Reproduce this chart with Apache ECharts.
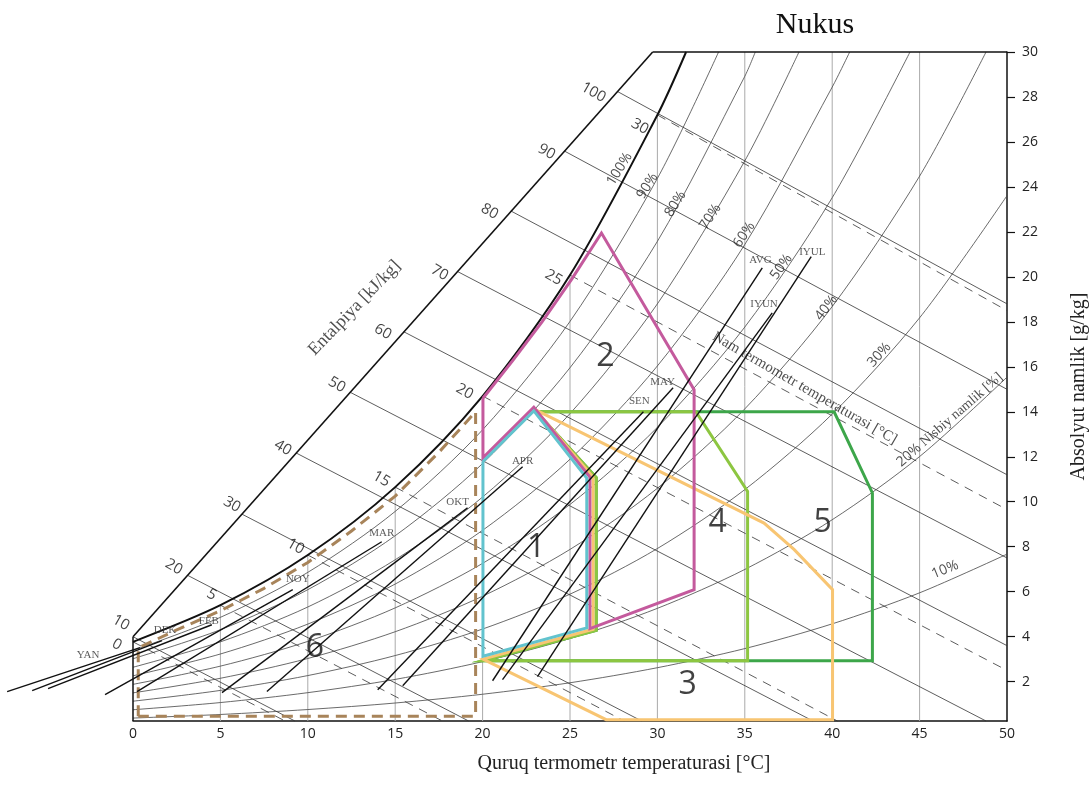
<!DOCTYPE html>
<html>
<head>
<meta charset="utf-8">
<title>Nukus</title>
<script src="https://cdn.jsdelivr.net/npm/echarts@6/dist/echarts.min.js"></script>
<style>
html,body{margin:0;padding:0;background:#fff;}
#main{width:1089px;height:787px;}
</style>
</head>
<body>
<div id="main"></div>
<script>
var yMin = 0.25;
var yTicks = [2,4,6,8,10,12,14,16,18,20,22,24,26,28,30];

// relative humidity curves, absolute humidity [g/kg] at these dry bulb temps
var temps = [0, 5, 10, 15, 20, 25, 30, 35, 40, 45, 50];
var rhNames = ['100%','90%','80%','70%','60%','50%','40%','30%','20%','10%'];
var rh100 = [3.77, 5.40, 7.63, 10.65, 14.70, 20.08, 27.20];
var rh90  = [3.39, 4.86, 6.86, 9.57, 13.20, 18.02, 24.38];
var rh80  = [3.02, 4.31, 6.09, 8.49, 11.70, 15.96, 21.58, 28.92];
var rh70  = [2.64, 3.77, 5.32, 7.42, 10.21, 13.92, 18.80, 25.16];
var rh60  = [2.26, 3.23, 4.56, 6.34, 8.73, 11.89, 16.04, 21.44, 28.44];
var rh50  = [1.88, 2.69, 3.79, 5.28, 7.26, 9.88, 13.31, 17.77, 23.52];
var rh40  = [1.50, 2.15, 3.03, 4.22, 5.80, 7.88, 10.60, 14.13, 18.68, 24.48];
var rh30  = [1.13, 1.61, 2.27, 3.16, 4.34, 5.89, 7.92, 10.54, 13.90, 18.18, 23.61];
var rh20  = [0.75, 1.07, 1.51, 2.10, 2.89, 3.92, 5.26, 6.99, 9.20, 12.01, 15.54];
var rh10  = [0.38, 0.54, 0.76, 1.05, 1.44, 1.95, 2.62, 3.47, 4.57, 5.95, 7.67];
// temp where a curve runs out of the top (30 g/kg)
var rhTopT = [31.64, 33.5, 35.6, 38.1, 41.0, 44.45, 48.8, null, null, null];
var rhLabelPos = [[27.83,24.8],[29.43,24.04],[31.03,23.24],[33.03,22.67],[34.97,21.87],[37.09,20.44],[39.66,18.62],[42.69,16.53],[46.72,13.64],[46.46,6.98]];
var rhLabelRot = [58, 58, 58, 57, 56, 54, 52, 48, 41, 22];

// vertical grid lines (from the saturation curve down)
var gridT = [5, 10, 15, 20, 25, 30, 35, 40, 45];
var gridTop = [5.40, 7.63, 10.65, 14.70, 20.08, 27.20, 30, 30, 30];

// enthalpy lines [kJ/kg]
var hVals = [10, 20, 30, 40, 50, 60, 70, 80, 90, 100];
var hStart = [[0,4.0],[3.12,6.73],[6.23,9.45],[9.33,12.17],[12.42,14.87],[15.49,17.56],[18.56,20.24],[21.62,22.93],[24.67,25.6],[27.70,28.25]];
var hEnd = [[9.26,yMin],[19.2,yMin],[29.1,yMin],[38.9,yMin],[48.8,yMin],[50,3.6],[50,7.5],[50,11.2],[50,15.0],[50,18.8]];
var hLabelPos = [[-0.69,4.62],[2.34,7.1],[5.66,9.87],[8.57,12.4],[11.66,15.2],[14.29,17.56],[17.54,20.18],[20.4,22.9],[23.66,25.56],[26.34,28.2]];
var hScaleEnd = [29.73, 30];

// wet bulb lines [°C]
var wbVals = [0, 5, 10, 15, 20, 25, 30];
var wbStart = [[0,3.77],[5,5.40],[10,7.63],[15,10.65],[20,14.70],[25,20.08],[30,27.20]];
var wbEnd = [[8.7,yMin],[17.7,yMin],[28.1,yMin],[40.3,yMin],[50,2.5],[50,9.65],[50,18.5]];
var wbLabelPos = [[-0.93,3.64],[4.5,5.87],[9.3,8.01],[14.21,11.01],[18.97,14.9],[24.06,19.97],[29.0,26.68]];

// monthly climate lines
var months = ['YAN','FEB','MAR','APR','MAY','IYUN','IYUL','AVG','SEN','OKT','NOY','DEK'];
var monthStart = [[-7.2,1.56],[-4.86,1.69],[0.23,1.56],[7.66,1.56],[15.43,1.82],[21.14,2.09],[23.14,2.22],[20.57,2.04],[14.0,1.64],[5.09,1.51],[-1.6,1.42],[-5.77,1.6]];
var monthEnd = [[0.4,3.51],[4.51,4.53],[14.23,8.22],[22.29,11.56],[30.9,15.07],[36.57,18.4],[38.8,20.9],[36.0,20.4],[29.2,14.0],[19.14,9.73],[9.14,6.09],[1.66,3.82]];
var monthLabelPos = [[-2.57,3.2],[4.34,4.67],[14.23,8.62],[22.29,11.82],[30.3,15.3],[36.1,18.8],[38.86,21.1],[35.9,20.76],[28.97,14.49],[18.57,10.0],[9.43,6.58],[1.83,4.31]];

// design strategy zones
var zone1 = [[20.02,11.79],[22.93,14.04],[25.96,11.05],[25.96,4.39],[20.02,3.13],[20.02,11.79]];
var zone2 = [[20.02,14.6],[21.7,16.25],[23.4,18.0],[25.1,19.9],[26.8,21.95],[32.1,14.98],[32.1,6.09],[26.14,4.36],[26.14,11.1],[22.93,14.2],[20.02,11.95],[20.02,14.6]];
var zone3 = [[23.0,14.1],[36.1,9.05],[37.83,7.87],[40.02,6.09],[40.02,0.31],[27.07,0.31],[20.02,3.0],[26.32,4.33],[26.32,11.1],[23.0,14.1]];
var zone4 = [[23.07,14.0],[32.2,14.0],[35.16,10.46],[35.16,2.93],[20.02,2.93],[26.5,4.28],[26.5,11.07],[23.07,14.0]];
var zone5 = [[23.07,14.0],[40.11,14.0],[42.3,10.39],[42.3,2.93],[20.02,2.93],[26.5,4.28],[26.5,11.07],[23.07,14.0]];
var zone6 = [[0.3,0.46],[0.3,3.5],[2.5,4.3],[5,5.15],[7.5,6.15],[10,7.3],[12.5,8.7],[15,10.25],[17.5,12.2],[19.6,14.0],[19.6,0.46],[0.3,0.46]];
var zoneNames = ['1','2','3','4','5','6'];
var zoneLabelPos = [[23.07,7.94],[27.03,16.46],[31.73,1.87],[33.45,9.05],[39.45,9.05],[10.4,3.5]];

var chart = echarts.init(document.getElementById('main'));
var series = [];

function addLine(pts, lineStyle, z, smooth) {
  series.push({
    type: 'line', data: pts, symbol: 'none', silent: true, clip: false,
    animation: false, smooth: smooth || false, z: z,
    lineStyle: lineStyle
  });
}
function addText(items, size, family, color, z) {
  series.push({
    type: 'scatter', silent: true, clip: false, animation: false, z: z || 6,
    symbolSize: 1, itemStyle: {color: 'rgba(0,0,0,0)'},
    label: {show: true, position: 'inside', color: color || '#222', fontSize: size, fontFamily: family},
    data: items
  });
}

gridT.forEach(function (t, i) {
  addLine([[t, yMin], [t, gridTop[i]]], {color: '#aaa', width: 1}, 1);
});

var rhTable = [rh100, rh90, rh80, rh70, rh60, rh50, rh40, rh30, rh20, rh10];
rhTable.forEach(function (vals, i) {
  var pts = vals.map(function (w, j) { return [temps[j], w]; });
  if (rhTopT[i] !== null) pts.push([rhTopT[i], 30]);
  if (i === 0) addLine(pts, {color: '#111', width: 2}, 3, 0.3);
  else addLine(pts, {color: '#444', width: 0.8}, 2, 0.3);
});

hVals.forEach(function (h, i) {
  addLine([hStart[i], hEnd[i]], {color: '#333', width: 0.8}, 2);
});
wbVals.forEach(function (v, i) {
  addLine([wbStart[i], wbEnd[i]], {color: '#333', width: 0.8, type: [9, 7]}, 2);
});

// chart outline
addLine([hStart[0], hScaleEnd], {color: '#111', width: 1.6}, 3);
addLine([[0, yMin], hStart[0]], {color: '#111', width: 1.5}, 3);
addLine([hScaleEnd, [50, 30]], {color: '#111', width: 1.5}, 3);

// zones
addLine(zone5, {color: '#3da64a', width: 3, join: 'miter'}, 4);
addLine(zone4, {color: '#8dc641', width: 3, join: 'miter'}, 4);
addLine(zone3, {color: '#f8c572', width: 3, join: 'miter'}, 4);
addLine(zone2, {color: '#c45a9d', width: 3, join: 'miter'}, 4);
addLine(zone1, {color: '#62c3ce', width: 3, join: 'miter'}, 4);
addLine(zone6, {color: '#a8845a', width: 3, type: [11, 7]}, 4);

// month lines: custom series so the cold months may run left of 0 °C
series.push({
  type: 'custom', silent: true, clip: false, animation: false, z: 5,
  encode: {x: [0, 2], y: [1, 3]},
  data: months.map(function (m, i) {
    return [monthStart[i][0], monthStart[i][1], monthEnd[i][0], monthEnd[i][1]];
  }),
  renderItem: function (params, api) {
    var a = api.coord([api.value(0), api.value(1)]);
    var b = api.coord([api.value(2), api.value(3)]);
    return {type: 'line', shape: {x1: a[0], y1: a[1], x2: b[0], y2: b[1]},
      style: {stroke: '#111', lineWidth: 1.4}};
  }
});

addText(months.map(function (m, i) {
  return {value: monthLabelPos[i], label: {formatter: m}};
}), 11, 'Liberation Serif', '#333');

addText(rhNames.map(function (n, i) {
  var txt = n === '20%' ? '{a|20%} {b|Nisbiy namlik [%]}' : n;
  return {value: rhLabelPos[i], label: {formatter: txt, rotate: rhLabelRot[i],
    rich: {a: {fontSize: 14, fontFamily: 'Open Sans', color: '#222'}, b: {fontSize: 14, fontFamily: 'Liberation Serif', color: '#222'}}}};
}), 14, 'Open Sans');

addText(hVals.map(function (h, i) {
  return {value: hLabelPos[i], label: {formatter: String(h), rotate: -30}};
}), 15, 'Open Sans', '#111');
addText(wbVals.map(function (v, i) {
  return {value: wbLabelPos[i], label: {formatter: String(v), rotate: -30}};
}), 15, 'Open Sans', '#111');

addText(zoneNames.map(function (n, i) {
  return {value: zoneLabelPos[i], label: {formatter: n}};
}), 32, 'Open Sans', '#111');

addText([
  {value: [38.43, 15.05], label: {formatter: 'Nam termometr temperaturasi [°C]', rotate: -30}},
  {value: [12.68, 18.62], label: {formatter: 'Entalpiya [kJ/kg]', rotate: 46, fontSize: 18}}
], 15, 'Liberation Serif');

chart.setOption({
  animation: false,
  backgroundColor: '#fff',
  grid: {left: 133, right: 82, top: 52, bottom: 66, containLabel: false, outerBoundsMode: 'none'},
  xAxis: {
    type: 'value', min: 0, max: 50, interval: 5,
    axisLine: {onZero: false, lineStyle: {color: '#111', width: 1.5}},
    axisTick: {show: false},
    splitLine: {show: false},
    axisLabel: {color: '#222', fontSize: 14, fontFamily: 'Open Sans', margin: 6}
  },
  yAxis: {
    type: 'value', position: 'right', min: yMin, max: 30,
    axisLine: {show: true, onZero: false, lineStyle: {color: '#111', width: 1.5}},
    axisTick: {show: true, length: 8, customValues: yTicks, lineStyle: {color: '#111', width: 1.2}},
    splitLine: {show: false},
    axisLabel: {customValues: yTicks, color: '#222', fontSize: 14, fontFamily: 'Open Sans', margin: 15},
    name: 'Absolyut namlik [g/kg]', nameLocation: 'middle', nameGap: 62, nameRotate: 90,
    nameTextStyle: {fontFamily: 'Liberation Serif', fontSize: 20, color: '#222'}
  },
  graphic: [
    {type: 'text', x: 815, y: 25, style: {text: 'Nukus', font: '30px "Liberation Serif"', fill: '#111',
      align: 'center', verticalAlign: 'middle', textAlign: 'center', textVerticalAlign: 'middle'}},
    {type: 'text', x: 624, y: 764, style: {text: 'Quruq termometr temperaturasi [°C]', font: '20px "Liberation Serif"', fill: '#222',
      align: 'center', verticalAlign: 'middle', textAlign: 'center', textVerticalAlign: 'middle'}}
  ],
  series: series
});
</script>
</body>
</html>
